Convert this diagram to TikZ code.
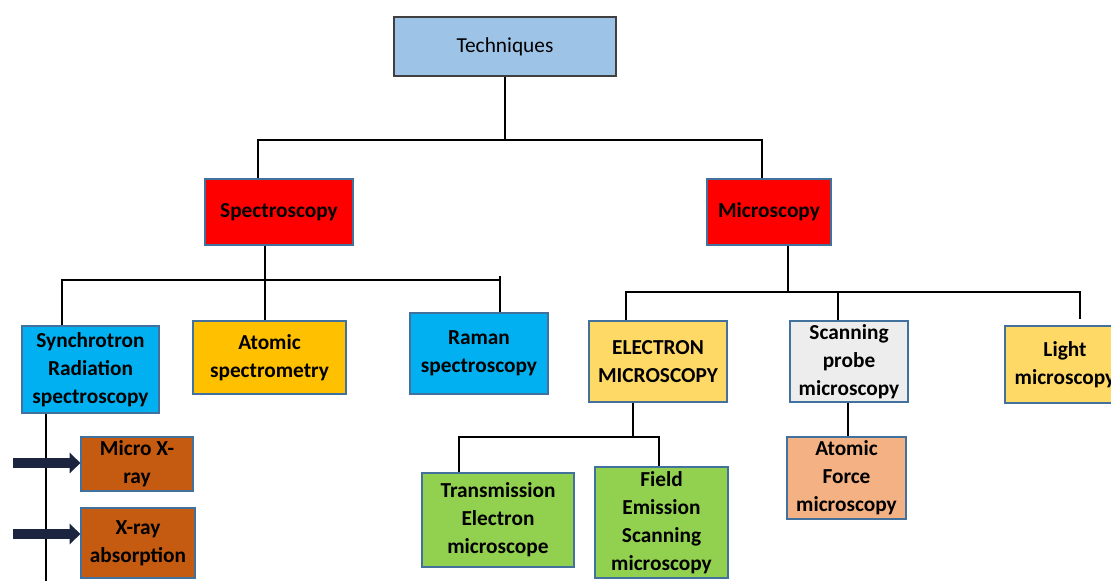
\documentclass[tikz,border=0pt]{standalone}
\usepackage{fontspec}
\setmainfont{Carlito}
\usetikzlibrary{arrows.meta}
\definecolor{techblue}{HTML}{9DC3E6}
\definecolor{specred}{HTML}{FF0000}
\definecolor{cyanbox}{HTML}{00B0F0}
\definecolor{amber}{HTML}{FFC000}
\definecolor{goldbox}{HTML}{FFD966}
\definecolor{graybox}{HTML}{EDEDED}
\definecolor{greenbox}{HTML}{92D050}
\definecolor{salmon}{HTML}{F4B183}
\definecolor{rust}{HTML}{C55A11}
\definecolor{bordercol}{HTML}{41719C}
\definecolor{navy}{HTML}{1B2540}
\tikzset{
  bx/.style 2 args={draw=bordercol, line width=0.9pt, inner sep=0pt, align=center,
    minimum width=#1*0.75pt, minimum height=#2*0.75pt,
    font=\fontsize{16}{21}\selectfont\bfseries},
  conn/.style={draw=black, line width=1.4pt},
  fatarrow/.style={draw=navy, line width=7pt, -{Triangle[length=8pt,width=15pt]}}
}
\begin{document}
\begin{tikzpicture}[x=0.75pt,y=-0.75pt]
\clip (0,0) rectangle (1111,581);
\fill[white] (0,0) rectangle (1111,581);
% nodes
\node[bx={222}{59}, fill=techblue, draw=black!75, font=\fontsize{16}{21}\selectfont] (tech) at (505,46.5) {Techniques};
\node[bx={148}{66}, fill=specred] (spec) at (279,212) {Spectroscopy};
\node[bx={124}{66}, fill=specred] (micro) at (769,212) {Microscopy};
\node[bx={137}{87}, fill=cyanbox] (sync) at (90.5,369.5) {Synchrotron\\Radiation\\spectroscopy};
\node[bx={153}{73}, fill=amber] (atomic) at (269.5,357.5) {Atomic\\spectrometry};
\node[bx={138}{81}, fill=cyanbox] (raman) at (479,353.5) {Raman\\spectroscopy};
\node[bx={112}{54}, fill=rust] (mxr) at (137,464) {Micro X-\\ray};
\node[bx={114}{70}, fill=rust] (xra) at (138,543) {X-ray\\absorption};
\node[bx={138}{81}, fill=goldbox] (em) at (658,361.5) {ELECTRON\\MICROSCOPY};
\node[bx={118}{81}, fill=graybox] (spm) at (849,361.5) {Scanning\\probe\\microscopy};
\node[bx={120}{77}, fill=goldbox] (light) at (1065,364.5) {Light\\microscopy};
\node[bx={152}{94}, fill=greenbox] (tem) at (498,520) {Transmission\\Electron\\microscope};
\node[bx={133}{111}, fill=greenbox] (fes) at (661.5,522.5) {Field\\Emission\\Scanning\\microscopy};
\node[bx={119}{82}, fill=salmon] (afm) at (846.5,478) {Atomic\\Force\\microscopy};
% connectors
\coordinate (t1) at (505,140);
\draw[conn] (tech.south) -- (t1);
\draw[conn] (spec.north -| 258,0) -- (258,140) -- (762,140) -- (micro.north -| 762,0);
\coordinate (s1) at (265,280);
\draw[conn] (spec.south -| s1) -- (s1) -- (atomic.north -| s1);
\draw[conn] (sync.north -| 62,0) -- (62,280) -- (500,280);
\draw[conn] (500,276) -- (raman.north -| 500,0);
\coordinate (m1) at (788,292);
\draw[conn] (micro.south -| m1) -- (m1);
\draw[conn] (em.north -| 626,0) -- (626,292) -- (1080,292) -- (1080,319);
\draw[conn] (838,292) -- (spm.north -| 838,0);
\coordinate (e1) at (633,437);
\draw[conn] (em.south -| e1) -- (e1);
\draw[conn] (tem.north -| 459,0) -- (459,437) -- (659,437) -- (fes.north -| 659,0);
\draw[conn] (spm.south -| 848,0) -- (afm.north -| 848,0);
\coordinate (v1) at (46,581);
\draw[conn] (sync.south -| v1) -- (v1);
% fat arrows
\coordinate (a1) at (13,463);
\coordinate (a2) at (13,534);
\draw[fatarrow] (a1) -- (mxr.west |- a1);
\draw[fatarrow] (a2) -- (xra.west |- a2);
\end{tikzpicture}
\end{document}
